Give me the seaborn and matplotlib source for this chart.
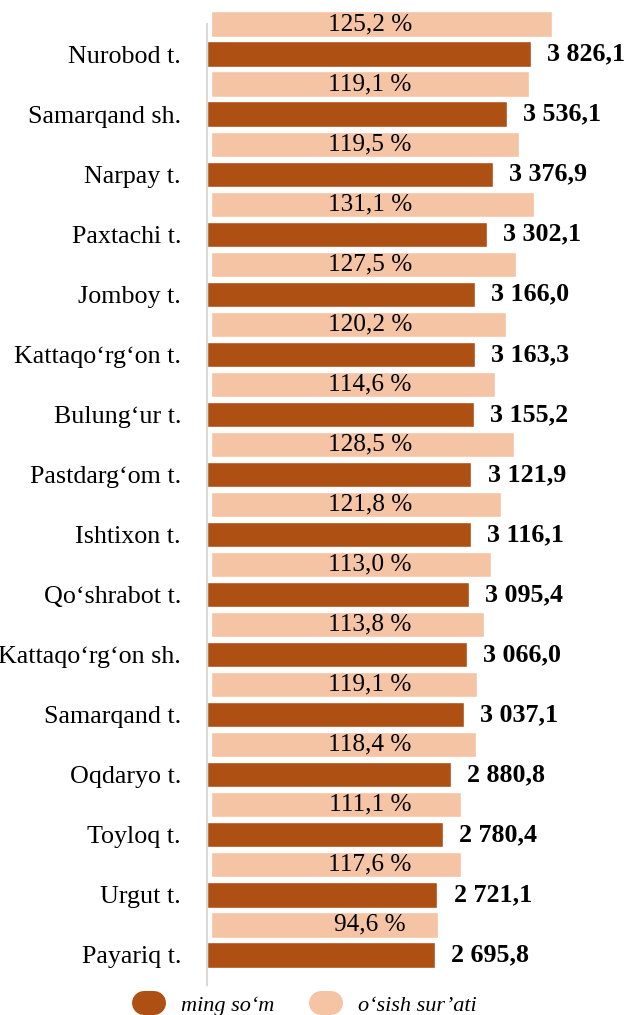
import numpy as np
import pandas as pd
import matplotlib
matplotlib.use('Agg')
import matplotlib.pyplot as plt
from matplotlib.lines import Line2D
import seaborn as sns

# data
districts = ['Nurobod t.', 'Samarqand sh.', 'Narpay t.', 'Paxtachi t.', 'Jomboy t.',
             'Kattaqo‘rg‘on t.', 'Bulung‘ur t.', 'Pastdarg‘om t.', 'Ishtixon t.',
             'Qo‘shrabot t.', 'Kattaqo‘rg‘on sh.', 'Samarqand t.', 'Oqdaryo t.',
             'Toyloq t.', 'Urgut t.', 'Payariq t.']
ming_som = [3826.1, 3536.1, 3376.9, 3302.1, 3166.0, 3163.3, 3155.2, 3121.9,
            3116.1, 3095.4, 3066.0, 3037.1, 2880.8, 2780.4, 2721.1, 2695.8]
osish_pct = [125.2, 119.1, 119.5, 131.1, 127.5, 120.2, 114.6, 128.5,
             121.8, 113.0, 113.8, 119.1, 118.4, 111.1, 117.6, 94.6]
# the peach label boxes are not to scale in the source, their ends (in ming so'm units)
osish_box_end = [4073, 3802, 3684, 3861, 3648, 3530, 3400, 3625,
                 3471, 3353, 3270, 3188, 3176, 2999, 2999, 2727]

brown = '#AE4F14'
peach = '#F5C4A5'

df = pd.DataFrame({'tuman': districts, 'ming_som': ming_som})

sns.set_style('white')
plt.rcParams['font.family'] = ['Liberation Serif', 'DejaVu Serif']
plt.rcParams['text.color'] = 'black'

fig = plt.figure(figsize=(6.28, 10.15), dpi=100)
ax = fig.add_axes([207 / 628, 30 / 1015, 421 / 628, 961 / 1015])

sns.barplot(data=df, x='ming_som', y='tuman', orient='h', color=brown,
            width=0.42, ax=ax, saturation=1)

pos = np.arange(len(districts))
box_left = 50
ax.barh(pos - 0.5, np.array(osish_box_end) - box_left, left=box_left,
        height=0.42, color=peach, clip_on=False, zorder=1)

for i, (v, p) in enumerate(zip(ming_som, osish_pct)):
    ax.text(v + 190, i, f'{v:,.1f}'.replace(',', ' ').replace('.', ','),
            ha='left', va='center', fontsize=18.7, fontweight='bold')
    ax.text(1925, i - 0.5, f'{p:.1f} %'.replace('.', ','),
            ha='center', va='center', fontsize=18.2, clip_on=False)

ax.set_xlim(0, 4970)
ax.set_ylim(15.5, -0.5)
ax.set_xlabel('')
ax.set_ylabel('')
ax.set_xticks([])
ax.tick_params(axis='y', length=0, pad=18.7, labelsize=18.7, labelcolor='black')
for s in ['top', 'right', 'bottom']:
    ax.spines[s].set_visible(False)
ax.spines['left'].set_color('#D9D9D9')
ax.spines['left'].set_linewidth(1.5)

handles = [Line2D([0], [0], color=brown, lw=17.3, solid_capstyle='round'),
           Line2D([0], [0], color=peach, lw=17.3, solid_capstyle='round')]
fig.legend(handles, ['ming so‘m', 'o‘sish sur’ati'], loc='center',
           bbox_to_anchor=(0.494, 0.0095), ncol=2, frameon=False,
           prop={'style': 'italic', 'size': 16}, handlelength=0.45,
           handletextpad=1.2, columnspacing=2.1, labelcolor='black')

fig.savefig('out.png', dpi=100)
